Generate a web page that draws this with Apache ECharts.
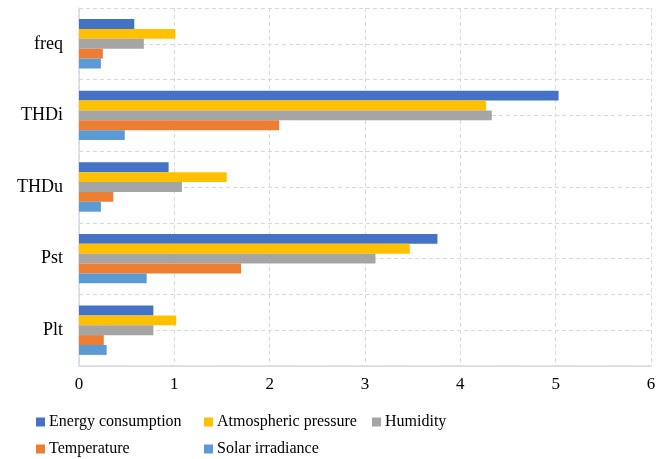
<!DOCTYPE html>
<html><head><meta charset="utf-8">
<script src="https://cdn.jsdelivr.net/npm/echarts@6/dist/echarts.min.js"></script>
<style>html,body{margin:0;padding:0;background:#fff}#c{width:666px;height:459px}</style>
</head><body><div id="c"></div>
<script>
const categories = ['freq', 'THDi', 'THDu', 'Pst', 'Plt'];
const seriesNames = ['Energy consumption', 'Atmospheric pressure', 'Humidity', 'Temperature', 'Solar irradiance'];
const energy = [0.58, 5.03, 0.94, 3.76, 0.78];
const atmospheric = [1.01, 4.27, 1.55, 3.47, 1.02];
const humidity = [0.68, 4.33, 1.08, 3.11, 0.78];
const temperature = [0.25, 2.10, 0.36, 1.70, 0.26];
const solar = [0.23, 0.48, 0.23, 0.71, 0.29];
const xTicks = [0, 1, 2, 3, 4, 5, 6];
const colors = ['#4472C4', '#FFC000', '#A5A5A5', '#ED7D31', '#5B9BD5'];
const values = [energy, atmospheric, humidity, temperature, solar];

const font = 'Liberation Serif, Times New Roman, serif';
const chart = echarts.init(document.getElementById('c'), null, {renderer: 'canvas'});
const dashed = {show: true, lineStyle: {color: '#d9d9d9', type: [4, 3], width: 1}};
const legendPos = [[36, 414], [204, 414], [372, 414], [36, 441], [204, 441]];
chart.setOption({
  animation: false,
  textStyle: {fontFamily: font},
  grid: {left: 79, right: 15, top: 8, bottom: 93, containLabel: false},
  xAxis: {
    type: 'value', min: xTicks[0], max: xTicks[xTicks.length - 1], interval: 1,
    axisLine: {show: true, lineStyle: {color: '#d9d9d9', width: 1.5}},
    axisTick: {show: false},
    axisLabel: {color: '#000', fontSize: 17, fontFamily: font, margin: 10},
    splitLine: dashed
  },
  yAxis: [{
    type: 'category', data: categories, inverse: true,
    axisLine: {show: true, lineStyle: {color: '#d9d9d9', width: 1.5}},
    axisTick: {show: false},
    axisLabel: {color: '#000', fontSize: 18, fontFamily: font, margin: 16},
    splitLine: {show: false}
  }, {
    type: 'value', min: 0, max: 10, interval: 1, position: 'right',
    axisLine: {show: false}, axisTick: {show: false}, axisLabel: {show: false},
    splitLine: dashed
  }],
  legend: seriesNames.map((n, i) => ({
    data: [n], left: legendPos[i][0], top: legendPos[i][1], padding: 0,
    itemWidth: 9, itemHeight: 9, icon: 'rect',
    textStyle: {fontFamily: font, fontSize: 16, color: '#000', padding: [0, 0, 0, -1]}
  })),
  series: seriesNames.map((n, i) => ({
    name: n, type: 'bar', data: values[i], yAxisIndex: 0,
    itemStyle: {color: colors[i]},
    barGap: '0%', barCategoryGap: '31%'
  }))
});
</script></body></html>
